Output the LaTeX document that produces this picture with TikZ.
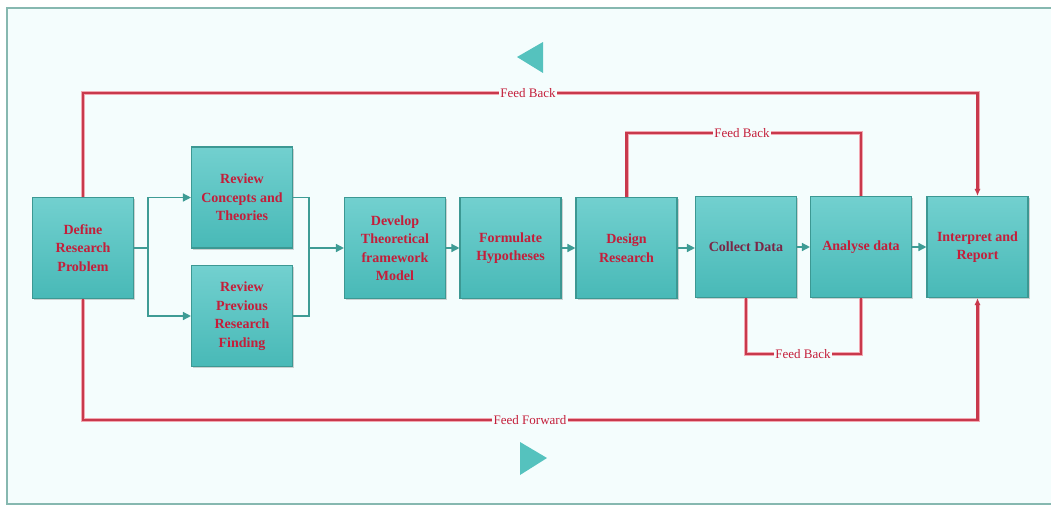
\documentclass[tikz,border=0pt]{standalone}
\usepackage{fontspec}
\setmainfont{Liberation Serif}
\usetikzlibrary{arrows.meta,shadows}
\definecolor{bgc}{HTML}{F4FDFD}
\definecolor{framec}{HTML}{86B8B0}
\definecolor{boxtop}{HTML}{72D0CF}
\definecolor{boxbot}{HTML}{48B9B7}
\definecolor{boxedge}{HTML}{3C9893}
\definecolor{txtred}{HTML}{C41E3A}
\definecolor{txtdark}{HTML}{7A2646}
\definecolor{redline}{HTML}{C8394C}
\definecolor{redhalo}{HTML}{F2A8B2}
\definecolor{tealline}{HTML}{3E9C95}
\definecolor{tritc}{HTML}{55C2BE}
\tikzset{
  stepbox/.style={draw=boxedge, line width=1.1pt, top color=boxtop, bottom color=boxbot,
    minimum width=101pt, minimum height=101pt, inner sep=2pt, align=center,
    text=txtred, font=\bfseries\fontsize{14}{18.5}\selectfont,
    drop shadow={shadow xshift=1.5pt, shadow yshift=-1.5pt, opacity=0.35}},
  tconn/.style={draw=tealline, line width=1.4pt},
  tarrow/.style={tconn, -{Triangle[length=8pt,width=8pt]}},
  rconn/.style={draw=redline, line width=2.4pt, preaction={draw=redhalo, line width=4pt}},
  rarrow/.style={rconn, -{Latex[length=7pt,width=6pt]}},
  fblabel/.style={text=txtred, font=\fontsize{13}{15}\selectfont, inner sep=1.5pt, fill=bgc}
}
\begin{document}
\begin{tikzpicture}[x=1pt,y=-1pt]
\useasboundingbox (0,0) rectangle (1051,506);
\fill[white] (0,0) rectangle (1051,506);
\fill[bgc] (7,8) rectangle (1060,504);
\draw[framec, line width=1.8pt] (1060,8) -- (7,8) -- (7,504) -- (1060,504);

% triangles
\fill[tritc] (517,57) -- (543,42) -- (543,73) -- cycle;
\fill[tritc] (520,442) -- (547,458) -- (520,475) -- cycle;

% boxes
\node[stepbox] (def)  at (83,248)   {Define\\Research\\Problem};
\node[stepbox] (rc)   at (242,197.5) {Review\\Concepts and\\Theories};
\node[stepbox] (rp)   at (242,316)  {Review\\Previous\\Research\\Finding};
\node[stepbox] (dev)  at (395,248)  {Develop\\Theoretical\\framework\\Model};
\node[stepbox] (form) at (510.5,248) {Formulate\\Hypotheses};
\node[stepbox] (des)  at (626.5,248) {Design\\Research};
\node[stepbox] (col)  at (746,247)  {\color{txtdark}Collect Data};
\node[stepbox] (ana)  at (861,247)  {Analyse data};
\node[stepbox] (int)  at (977.5,247) {Interpret and\\Report};

% teal connectors
\coordinate (j1) at (148,248);
\coordinate (j2) at (309,248);
\draw[tconn] (def.east) -- (j1);
\draw[tarrow] (j1) |- (rc.west);
\draw[tarrow] (j1) |- (rp.west);
\draw[tconn] (rc.east) -| (j2);
\draw[tconn] (rp.east) -| (j2);
\draw[tarrow] (j2) -- (dev.west);
\draw[tarrow] (dev) -- (form);
\draw[tarrow] (form) -- (des);
\draw[tarrow] (des.east) -- (des.east -| col.west);
\draw[tarrow] (col) -- (ana);
\draw[tarrow] (ana) -- (int);

% labels
\node[fblabel] (l1) at (528,93)  {Feed Back};
\node[fblabel] (l2) at (742,133) {Feed Back};
\node[fblabel] (l3) at (803,354) {Feed Back};
\node[fblabel] (l4) at (530,420) {Feed Forward};

% red connectors
\draw[rconn] (def.north) |- (l1.west);
\draw[rarrow] (l1.east) -| (int.north);
\draw[rconn] (des.north) |- (l2.west);
\draw[rconn] (l2.east) -| (ana.north);
\draw[rconn] (col.south) |- (l3.west);
\draw[rconn] (l3.east) -| (ana.south);
\draw[rconn] (def.south) |- (l4.west);
\draw[rarrow] (l4.east) -| (int.south);
\end{tikzpicture}
\end{document}
